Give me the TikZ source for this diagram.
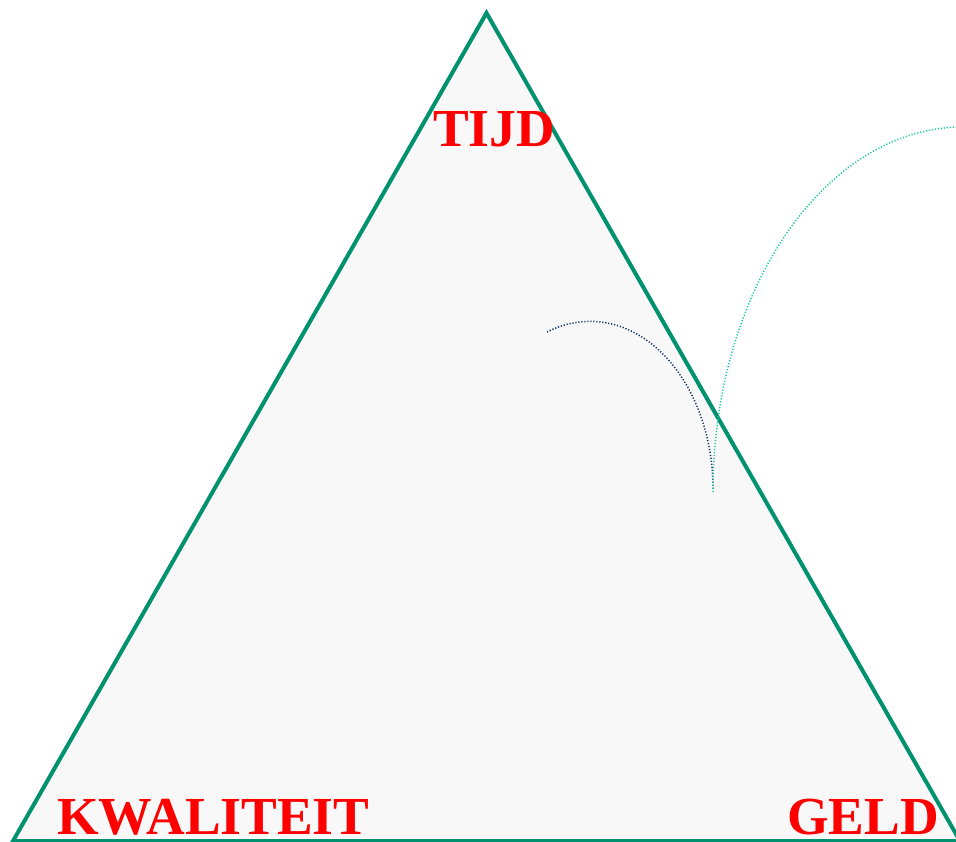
\documentclass[tikz,border=0pt]{standalone}
\usepackage{fontspec}
\setmainfont{Liberation Serif}
\definecolor{trigreen}{RGB}{0,145,110}
\definecolor{trifill}{RGB}{248,248,248}
\definecolor{navydot}{RGB}{20,50,100}
\definecolor{tealdot}{RGB}{32,200,160}
\tikzset{
  tri/.style={draw=trigreen, fill=trifill, line width=4pt, line join=miter},
  lbl/.style={text=red, font=\fontsize{53.5}{54}\selectfont\bfseries, inner sep=0pt, anchor=base west},
  navycurve/.style={draw=navydot, line width=1.5pt, dash pattern=on 1.2pt off 1.8pt},
  tealcurve/.style={draw=tealdot, line width=1.5pt, dash pattern=on 1.2pt off 1.8pt}
}
\begin{document}
\begin{tikzpicture}[x=1pt,y=-1pt]
\useasboundingbox (0,0) rectangle (956,842);
\clip (0,0) rectangle (956,842);
\coordinate (apex) at (486.5,13);
\coordinate (bl) at (13,841);
\coordinate (br) at (960,841);
\draw[tri] (apex) -- (bl) -- (br) -- cycle;
\node[lbl] (tijd) at (433,147) {TIJD};
\node[lbl] (kwal) at (57,834) {KWALITEIT};
\node[lbl] (geld) at (787,834) {GELD};
\coordinate (navystart) at (547,332);
\coordinate (meet) at (713,492);
\draw[navycurve] (navystart) arc[start angle=-110.5, end angle=0, x radius=123, y radius=168];
\draw[tealcurve] (meet) arc[start angle=180, end angle=270, x radius=250, y radius=365];
\end{tikzpicture}
\end{document}
